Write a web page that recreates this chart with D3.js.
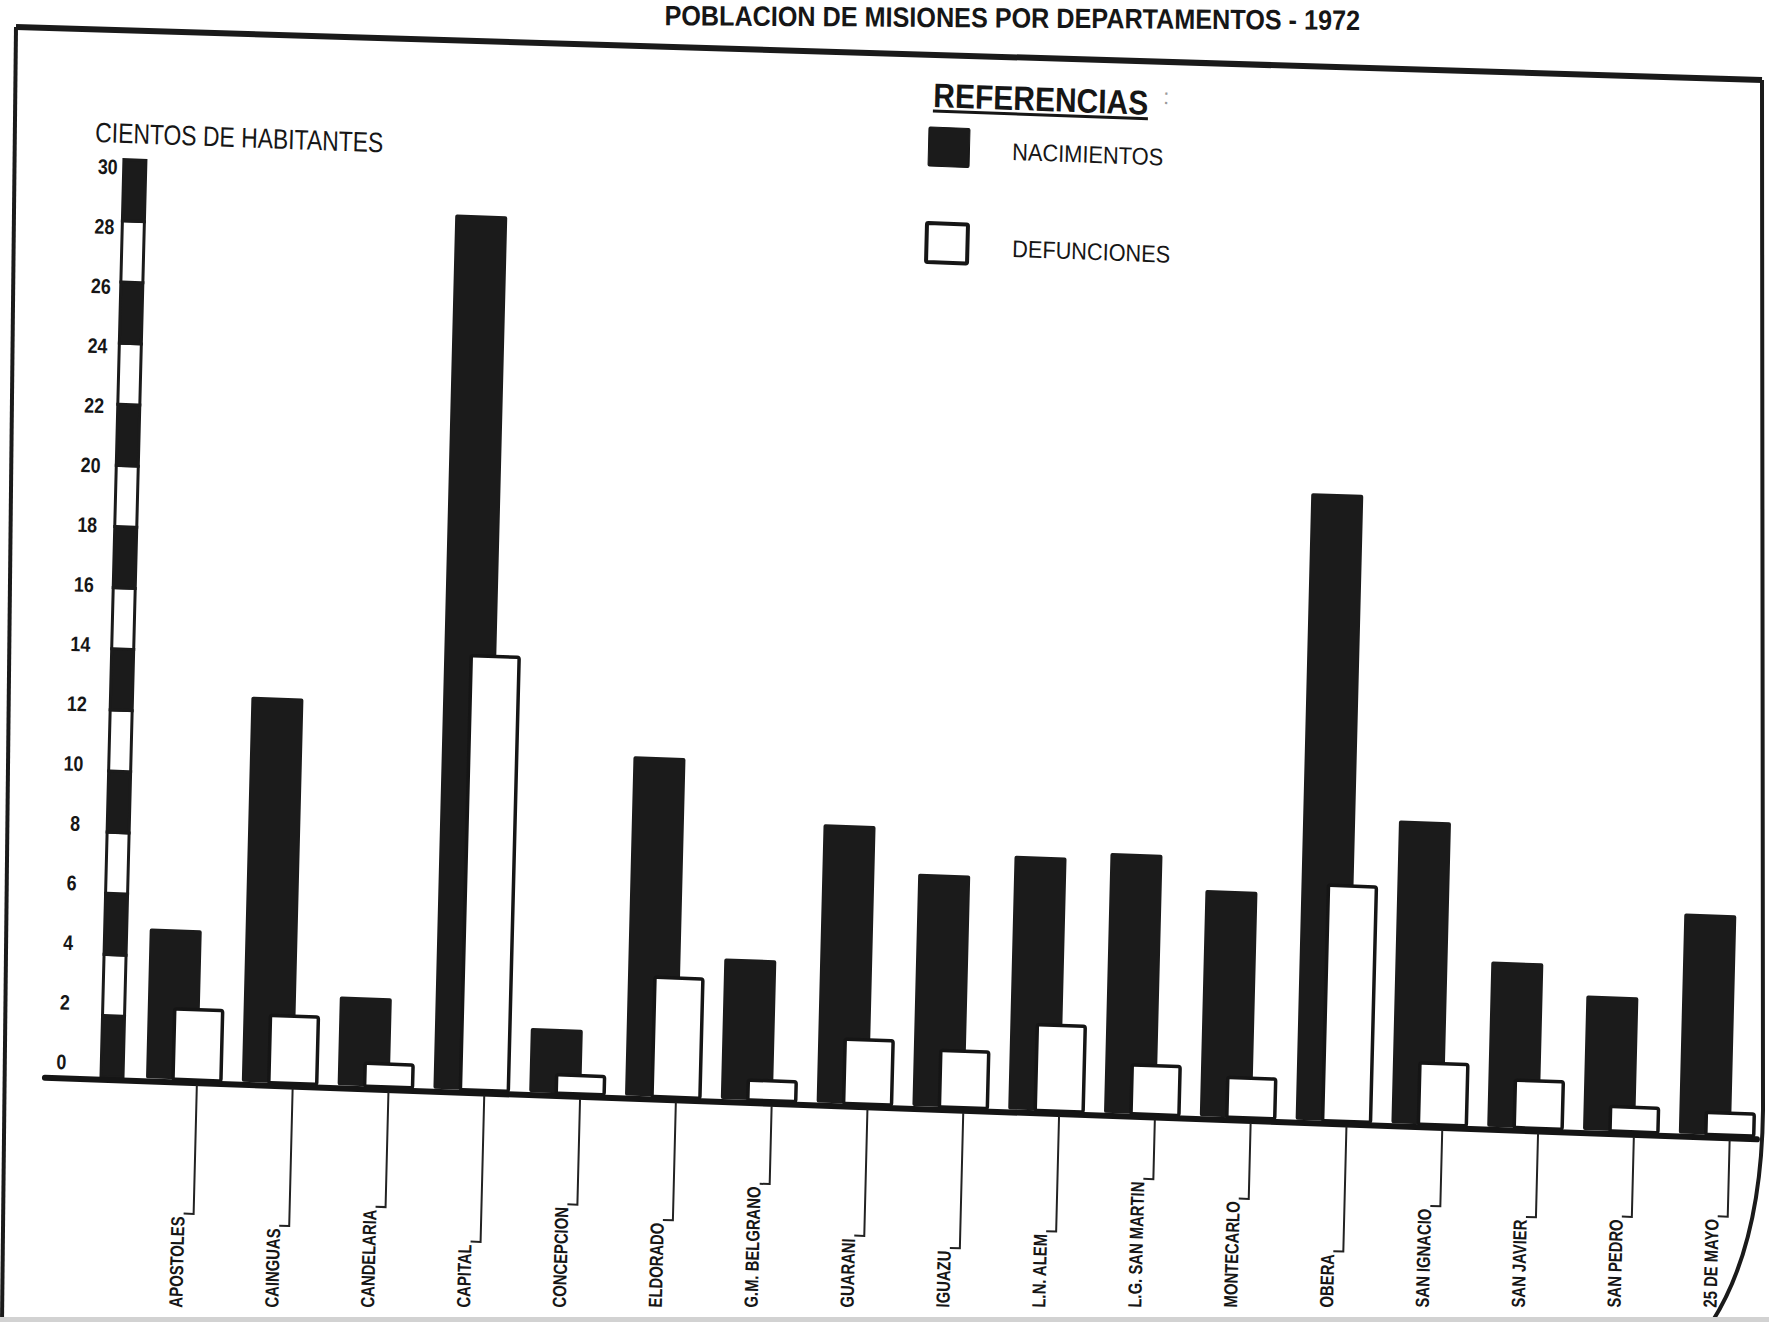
<!DOCTYPE html>
<html><head><meta charset="utf-8">
<script src="https://cdn.jsdelivr.net/npm/d3@7"></script>
<style>
html,body{margin:0;padding:0;background:#fff;}
svg{display:block;}
text{font-family:"Liberation Sans", Arial, sans-serif;fill:#161616;}
</style></head><body>
<svg id="chart" width="1769" height="1322"></svg>
<script>
// ---- data ----
const categories = ["APOSTOLES","CAINGUAS","CANDELARIA","CAPITAL","CONCEPCION","ELDORADO","G.M. BELGRANO","GUARANI","IGUAZU","L.N. ALEM","L.G. SAN MARTIN","MONTECARLO","OBERA","SAN IGNACIO","SAN JAVIER","SAN PEDRO","25 DE MAYO"];
const nacimientos = [4.9,12.6,2.9,28.6,2.1,11.1,4.6,9.1,7.6,8.3,8.5,7.4,20.5,9.9,5.4,4.4,7.2];
const defunciones = [2.3,2.2,0.75,14.2,0.6,3.9,0.65,2.1,1.85,2.8,1.6,1.3,7.7,2.0,1.55,0.8,0.72];
const yTicks = [0,2,4,6,8,10,12,14,16,18,20,22,24,26,28,30];
const seriesNames = ["NACIMIENTOS","DEFUNCIONES"];
const yAxisTitle = "CIENTOS DE HABITANTES";
const legendTitle = "REFERENCIAS";
const chartTitle = "POBLACION DE MISIONES POR DEPARTAMENTOS - 1972";

// ---- layout ----
const W = 1769, H = 1322;
const svg = d3.select("#chart");
svg.append("rect").attr("width", W).attr("height", H).attr("fill", "#fff");

// photo distortion (slight rotation / shear)
const A = -0.025, B = 0.036, X0 = 110, Y0 = 1077;
function inv(X, Y) {
  const x = (X - A * (Y - Y0) - A * B * X0) / (1 - A * B);
  const y = Y - B * (x - X0);
  return [x, y];
}
const g = svg.append("g")
  .attr("transform", `matrix(1,${B},${A},1,${-A * Y0},${-B * X0})`);

const x = d3.scaleBand().domain(categories).range([146, 146 + 95.8 * categories.length]).paddingInner(0).paddingOuter(0);
const bw = x.bandwidth();
const y = d3.scaleLinear().domain([0, 30]).range([1077, 160]);
// tick labels drift a little on the curled page
const yLab = d3.scaleLinear().domain([0, 30]).range([1064, 168]);
const xLab = d3.scaleLinear().domain([0, 30]).range([66, 95]);

// striped y axis
const stripeX = 101, stripeW = 22;
const stripes = d3.pairs(yTicks);
g.selectAll("rect.stripe").data(stripes).join("rect")
  .attr("class", "stripe")
  .attr("x", stripeX).attr("width", stripeW)
  .attr("y", d => y(d[1])).attr("height", d => y(d[0]) - y(d[1]))
  .attr("fill", (d, i) => i % 2 === 0 ? "#1b1b1b" : "#fff")
  .attr("stroke", "#1b1b1b").attr("stroke-width", 3);

g.selectAll("text.tick").data(yTicks).join("text")
  .attr("class", "tick")
  .attr("text-anchor", "end")
  .attr("font-size", 21).attr("font-weight", "bold")
  .attr("transform", d => `translate(${xLab(d)},${yLab(d) + 7}) scale(0.85,1)`)
  .text(d => d);

// y axis title
{
  const p = inv(95, 142);
  g.append("text").attr("x", p[0]).attr("y", p[1])
    .attr("font-size", 28)
    .attr("textLength", 288).attr("lengthAdjust", "spacingAndGlyphs")
    .text(yAxisTitle);
}

// bars
const blackW = bw * 0.543, whiteOff = bw * 0.282, whiteW = bw * 0.50, tickOff = bw * 0.532;
g.selectAll("rect.nac").data(categories).join("rect")
  .attr("class", "nac")
  .attr("x", d => x(d)).attr("width", blackW)
  .attr("y", (d, i) => y(nacimientos[i]))
  .attr("height", (d, i) => y(0) - y(nacimientos[i]))
  .attr("rx", 2).attr("fill", "#1b1b1b");
g.selectAll("rect.def").data(categories).join("rect")
  .attr("class", "def")
  .attr("x", d => x(d) + whiteOff).attr("width", whiteW)
  .attr("y", (d, i) => y(defunciones[i]))
  .attr("height", (d, i) => y(0) - y(defunciones[i]))
  .attr("rx", 2).attr("fill", "#fff").attr("stroke", "#151515").attr("stroke-width", 3.5);

// baseline
g.append("line").attr("x1", 45).attr("x2", 1757).attr("y1", y(0) + 3).attr("y2", y(0) + 3)
  .attr("stroke", "#151515").attr("stroke-width", 6).attr("stroke-linecap", "round");

// category labels with leaders
const labScale = 0.78;
categories.forEach((c, i) => {
  const tickX = x(c) + tickOff;
  const tx = tickX - 9;
  const ys = 1308 - B * (tickX - X0);
  const t = g.append("text")
    .attr("transform", `translate(${tx},${ys}) rotate(-90) scale(${labScale},1)`)
    .attr("font-size", 19).attr("font-weight", "bold")
    .attr("text-anchor", "start")
    .text(c);
  const len = t.node().getComputedTextLength() * labScale;
  const topY = ys - len - 3;
  g.append("path")
    .attr("d", `M${tickX},${y(0) + 5} L${tickX},${topY} L${tx - 1},${topY}`)
    .attr("fill", "none").attr("stroke", "#222").attr("stroke-width", 2);
});

// legend
{
  const p = inv(933, 107);
  g.append("text").attr("x", p[0]).attr("y", p[1])
    .attr("font-size", 34).attr("font-weight", "bold")
    .attr("textLength", 215).attr("lengthAdjust", "spacingAndGlyphs")
    .text(legendTitle);
  g.append("line").attr("x1", p[0]).attr("x2", p[0] + 215).attr("y1", p[1] + 4).attr("y2", p[1] + 4)
    .attr("stroke", "#161616").attr("stroke-width", 3);
  const q = inv(1163, 104);
  g.append("text").attr("x", q[0]).attr("y", q[1]).attr("font-size", 22).style("fill", "#9a9a9a").text(":");

  const sw = [[929, 127, "#1b1b1b"], [927, 223, "#fff"]];
  sw.forEach((s, k) => {
    const r = inv(s[0], s[1]);
    g.append("rect").attr("x", r[0]).attr("y", r[1]).attr("width", 41).attr("height", 39)
      .attr("fill", s[2]).attr("stroke", "#161616").attr("stroke-width", k === 0 ? 1 : 4).attr("rx", 1.5);
  });
  const lt = [[1012, 160, 151], [1012, 257, 158]];
  lt.forEach((l, k) => {
    const r = inv(l[0], l[1]);
    g.append("text").attr("x", r[0]).attr("y", r[1])
      .attr("font-size", 24)
      .attr("textLength", l[2]).attr("lengthAdjust", "spacingAndGlyphs")
      .text(seriesNames[k]);
  });
}

// frame of the printed page
svg.append("path").attr("d", "M16,27 L1762,80").attr("stroke", "#1a1a1a").attr("stroke-width", 6).attr("fill", "none");
svg.append("path").attr("d", "M16,27 L2,1322").attr("stroke", "#1a1a1a").attr("stroke-width", 4).attr("fill", "none");
svg.append("path").attr("d", "M1762,80 L1763,1110 C1762,1200 1745,1270 1712,1322").attr("stroke", "#1a1a1a").attr("stroke-width", 4).attr("fill", "none");

// title at the top edge of the photo
svg.append("text")
  .attr("transform", "translate(1360,30) rotate(0.4) scale(0.9,1)")
  .attr("text-anchor", "end")
  .attr("font-size", 28).attr("font-weight", "bold")
  .text(chartTitle);

// bottom photo edge
svg.append("rect").attr("x", 0).attr("y", 1317).attr("width", W).attr("height", 5).attr("fill", "#d2d2d2");
</script>
</body></html>
